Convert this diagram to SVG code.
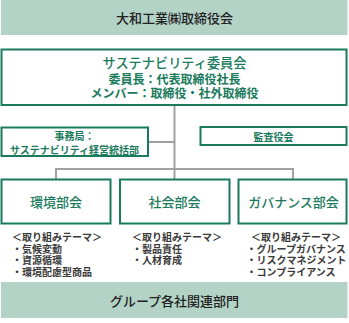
<svg xmlns="http://www.w3.org/2000/svg" width="349" height="323" viewBox="0 0 349 323">
<style>
text{font-family:"Noto Sans CJK JP","Noto Sans CJK SC",sans-serif;dominant-baseline:central}
.band{fill:#b3d3c7}
.box{fill:#fff;stroke:#1a7a5c;stroke-width:2}
.g{fill:#1a7a5c;text-anchor:middle}
.dk{fill:#222;text-anchor:middle}
.lst{fill:#3a3a3a;font-size:10px;font-weight:bold}
.conn{fill:none;stroke:#a0a0a0;stroke-width:2}
</style>
<g id="connectors">
<line class="conn" x1="174.5" y1="105" x2="174.5" y2="179"/>
<line class="conn" x1="148" y1="142" x2="174.5" y2="142"/>
<polyline class="conn" points="56,179 56,169 293,169 293,179"/>
</g>
<g id="board">
<rect class="band" x="1" y="0" width="346.5" height="35"/>
<text class="dk" x="174.5" y="17.5" font-size="13" font-weight="500">大和工業㈱取締役会</text>
</g>
<g id="committee">
<rect class="box" x="1.5" y="49.5" width="345" height="55.5"/>
<text class="g" x="174.5" y="62" font-size="13.2" font-weight="500">サステナビリティ委員会</text>
<text class="g" x="174.5" y="78.5" font-size="12" font-weight="bold">委員長：代表取締役社長</text>
<text class="g" x="174.5" y="92" font-size="12" font-weight="bold">メンバー：取締役・社外取締役</text>
</g>
<g id="secretariat">
<rect class="box" x="1.5" y="127.5" width="146.5" height="28.5"/>
<text class="g" x="74.5" y="135.5" font-size="10" font-weight="bold">事務局：</text>
<text class="g" x="74.5" y="149" font-size="10" font-weight="bold">サステナビリティ経営統括部</text>
</g>
<g id="audit">
<rect class="box" x="200.5" y="127" width="146" height="18"/>
<text class="g" x="273.5" y="136" font-size="10" font-weight="bold">監査役会</text>
</g>
<g id="env">
<rect class="box" x="1.5" y="179.5" width="109" height="44"/>
<text class="g" x="56" y="201.5" font-size="13" font-weight="500">環境部会</text>
<text class="lst"><tspan x="12" y="236">＜取り組みテーマ＞</tspan><tspan x="12" y="247.6">・気候変動</tspan><tspan x="12" y="259.2">・資源循環</tspan><tspan x="12" y="270.8">・環境配慮型商品</tspan></text>
</g>
<g id="social">
<rect class="box" x="120" y="179.5" width="109.5" height="44"/>
<text class="g" x="174.5" y="201.5" font-size="13" font-weight="500">社会部会</text>
<text class="lst"><tspan x="132" y="236">＜取り組みテーマ＞</tspan><tspan x="132" y="247.6">・製品責任</tspan><tspan x="132" y="259.2">・人材育成</tspan></text>
</g>
<g id="gov">
<rect class="box" x="238.5" y="179.5" width="108" height="44"/>
<text class="g" x="293.5" y="201.5" font-size="13" font-weight="500">ガバナンス部会</text>
<text class="lst"><tspan x="251" y="236">＜取り組みテーマ＞</tspan><tspan x="246.5" y="247.6">・グループガバナンス</tspan><tspan x="246.5" y="259.2">・リスクマネジメント</tspan><tspan x="246.5" y="270.8">・コンプライアンス</tspan></text>
</g>
<g id="group">
<rect class="band" x="1" y="282" width="346.5" height="36"/>
<text class="dk" x="174.5" y="300.5" font-size="13" font-weight="500">グループ各社関連部門</text>
</g>
</svg>
